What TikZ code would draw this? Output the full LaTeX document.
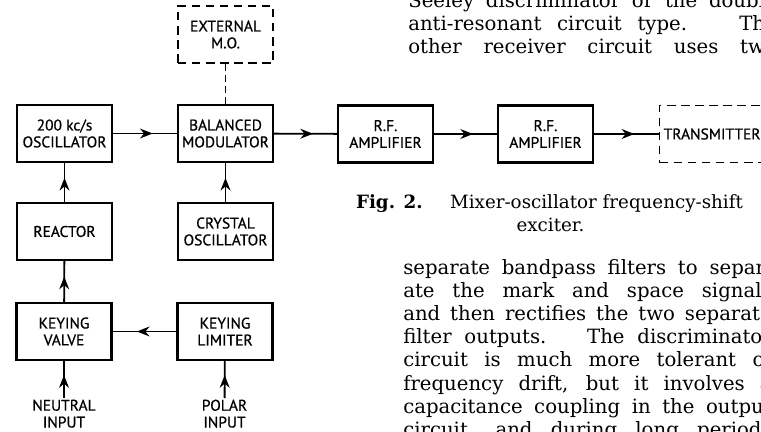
\documentclass[tikz,border=0pt]{standalone}
\usepackage{fontspec}
\setmainfont{DejaVu Serif}
\newfontfamily\boxfont[FakeBold=0.7]{PT Sans}
\usetikzlibrary{arrows.meta,decorations.markings}

\begin{document}
\begin{tikzpicture}[x=0.025cm,y=-0.025cm,>={Stealth[length=9pt,width=7pt]},
	block/.style={draw,line width=1.5pt,minimum width=2.375cm,minimum height=1.425cm,inner sep=0pt,align=center,font=\boxfont\fontsize{11}{12}\selectfont},
	dblock/.style={block,line width=1pt,dash pattern=on 6pt off 4pt},
	lbl/.style={align=center,inner sep=1pt,font=\boxfont\fontsize{11}{12}\selectfont},
	midarrow/.style={line width=1.3pt,postaction={decorate},decoration={markings,mark=at position 0.62 with {\arrow{>}}}},
	dline/.style={line width=1pt,dash pattern=on 5pt off 3pt},
	txt/.style={anchor=base west,inner sep=0pt,font=\fontsize{14}{16}\selectfont}]
	\useasboundingbox (0,0) rectangle (761,432);
	\clip (0,0) rectangle (761,432);
	%	blocks
	\node[block] (osc) at (64.5,133.5) {200 kc/s\\OSCILLATOR};
	\node[block] (bal) at (225.5,133.5) {BALANCED\\MODULATOR};
	\node[block] (rfa) at (385.5,134) {R.F.\\AMPLIFIER};
	\node[block] (rfb) at (545.5,134) {R.F.\\AMPLIFIER};
	\node[dblock,anchor=west,minimum width=0pt,text width=2.8cm,align=left,inner xsep=0.1cm] (tx) at (659,134) {TRANSMITTER};
	\node[dblock] (ext) at (225.5,34.5) {EXTERNAL\\M.O.};
	\node[block] (reac) at (64.5,231.5) {REACTOR};
	\node[block] (xtal) at (225.5,231.5) {CRYSTAL\\OSCILLATOR};
	\node[block] (kv) at (64,331.5) {KEYING\\VALVE};
	\node[block] (kl) at (225,331.5) {KEYING\\LIMITER};
	\node[lbl,anchor=north] (neu) at (64,398) {NEUTRAL\\INPUT};
	\node[lbl,anchor=north] (pol) at (224.5,398) {POLAR\\INPUT};
	%	connections
	\draw[midarrow] (osc) -- (bal);
	\draw[midarrow] (bal) -- (rfa);
	\draw[midarrow] (rfa) -- (rfb);
	\draw[midarrow] (rfb) -- (tx.west);
	\draw[midarrow] (reac) -- (osc);
	\draw[midarrow] (kv) -- (reac);
	\draw[midarrow] (kl) -- (kv);
	\draw[midarrow] (neu) -- (kv);
	\draw[midarrow] (pol) -- (kl);
	\draw[midarrow] (xtal) -- (bal);
	\draw[dline] (ext) -- (bal);
	%	caption and page text
	\node[anchor=base,inner sep=0pt,font=\fontsize{13}{15}\selectfont] (cap1) at (549.5,208) {\textbf{Fig. 2.}\hskip 1.5em Mixer-oscillator frequency-shift};
	\node[anchor=base,inner sep=0pt,font=\fontsize{13}{15}\selectfont] (cap2) at (550.5,231) {exciter.};
	\foreach \row [count=\i] in {{Seeley discriminator or the double},{anti-resonant circuit type. \ The},{other receiver circuit uses two}}
		\node[txt] (top\i) at (408,{8+(\i-1)*23}) {\hbox to 262pt{\row}};
	\foreach \row [count=\i] in {{separate bandpass filters to separ-},{ate the mark and space signals},{and then rectifies the two separate},{filter outputs. \ The discriminator},{circuit is much more tolerant of},{frequency drift, but it involves a},{capacitance coupling in the output},{circuit, and during long periods}}
		\node[txt] (body\i) at (403,{274+(\i-1)*23.2}) {\hbox to 262pt{\row}};
\end{tikzpicture}
\end{document}
